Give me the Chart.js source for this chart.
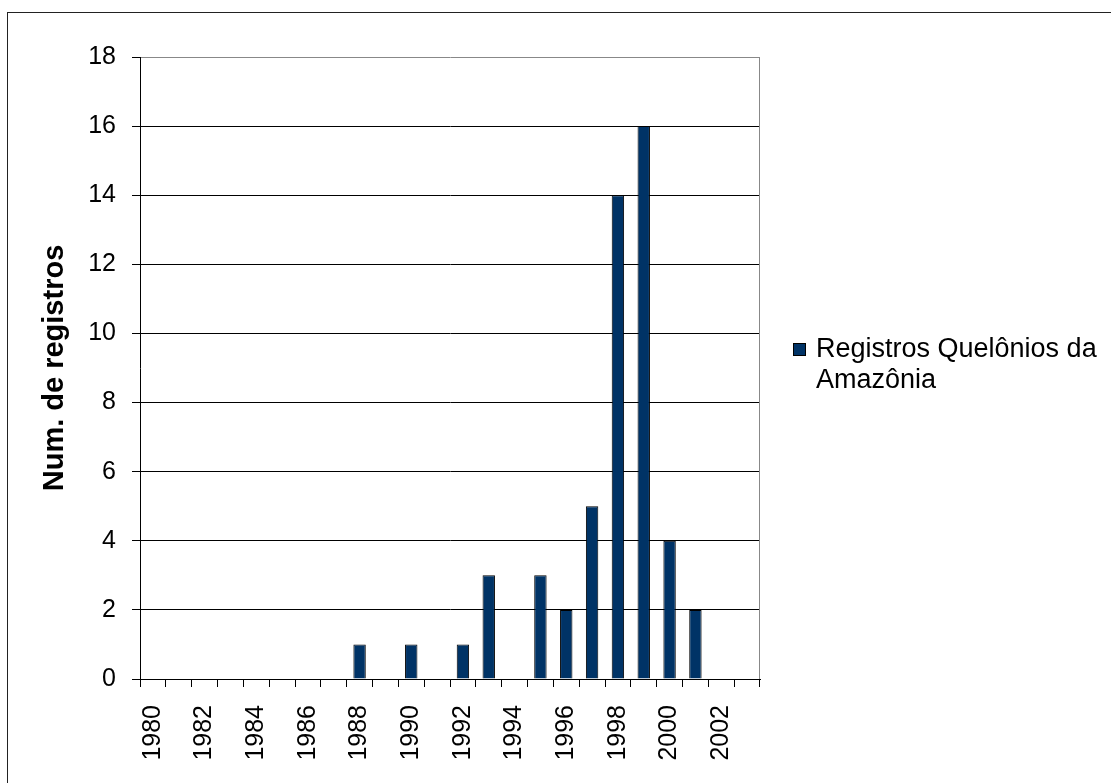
<!DOCTYPE html>
<html>
<head>
<meta charset="utf-8">
<script src="https://cdn.jsdelivr.net/npm/chart.js@4/dist/chart.umd.min.js"></script>
<style>
  html, body { margin: 0; padding: 0; width: 1111px; height: 783px; overflow: hidden; background: #fff; }
  #wrap { position: relative; width: 1111px; height: 783px; }
  #frame { position: absolute; left: 7px; top: 12px; width: 1300px; height: 1000px; border: 1px solid #222; box-sizing: border-box; pointer-events: none; }
  canvas { position: absolute; left: 0; top: 0; }
  #legend { position: absolute; left: 793px; top: 333px; font-family: "Liberation Sans", Arial, sans-serif; font-size: 27px; line-height: 31px; color: #000; white-space: nowrap; }
  #legend .sw { position: absolute; left: 0; top: 10px; width: 11px; height: 11px; background: #003366; border: 1px solid #000; }
  #legend .tx { margin-left: 23px; }
</style>
</head>
<body>
<div id="wrap">
  <div id="frame"></div>
  <canvas id="c" width="1111" height="783"></canvas>
  <div id="legend"><div class="sw"></div><div class="tx">Registros Quelônios da<br>Amazônia</div></div>
</div>
<script>
const years = ["1980","1981","1982","1983","1984","1985","1986","1987","1988","1989","1990","1991","1992","1993","1994","1995","1996","1997","1998","1999","2000","2001","2002","2003"];
const registros = [0,0,0,0,0,0,0,0,1,0,1,0,1,3,0,3,2,5,14,16,4,2,0,0];
const seriesName = "Registros Quelônios da Amazônia";
const yTitle = "Num. de registros";

Chart.defaults.font.family = "'Liberation Sans', Arial, sans-serif";
Chart.defaults.color = "#000";

const plotBorder = {
  id: 'plotBorder',
  afterDraw(chart) {
    const a = chart.chartArea, ctx = chart.ctx;
    ctx.save();
    ctx.strokeStyle = '#888';
    ctx.lineWidth = 1;
    ctx.beginPath();
    ctx.moveTo(Math.round(a.right) - 0.5, a.top);
    ctx.lineTo(Math.round(a.right) - 0.5, a.bottom);
    ctx.stroke();
    ctx.restore();
  }
};

new Chart(document.getElementById('c'), {
  type: 'bar',
  data: {
    labels: years,
    datasets: [{
      label: seriesName,
      data: registros,
      backgroundColor: '#003366',
      borderColor: '#000',
      borderWidth: 1,
      categoryPercentage: 1.0,
      barPercentage: 0.48
    }]
  },
  options: {
    responsive: false,
    animation: false,
    layout: { padding: { left: 0, top: 57, right: 351, bottom: 0 } },
    plugins: { legend: { display: false }, tooltip: { enabled: false } },
    scales: {
      x: {
        grid: { offset: true, drawOnChartArea: false, color: '#000', tickLength: 8, tickColor: '#000' },
        border: { color: '#000', width: 1 },
        ticks: {
          autoSkip: false, maxRotation: 90, minRotation: 90, padding: 18,
          font: { size: 25 },
          callback: function(v, i) { return i % 2 === 0 ? this.getLabelForValue(v) : ''; }
        },
        afterFit(s) { s.height = 104; }
      },
      y: {
        min: 0, max: 18,
        grid: { color: (c) => c.tick && c.tick.value === 18 ? '#888' : '#000', tickLength: 8, tickColor: '#000' },
        border: { color: '#000', width: 1 },
        ticks: { stepSize: 2, padding: 16, font: { size: 25 } },
        title: { display: true, text: yTitle, font: { size: 29, weight: 'bold' }, padding: { top: 38, bottom: 0 } },
        afterFit(s) { s.width = 140; }
      }
    }
  },
  plugins: [plotBorder]
});
</script>
</body>
</html>
